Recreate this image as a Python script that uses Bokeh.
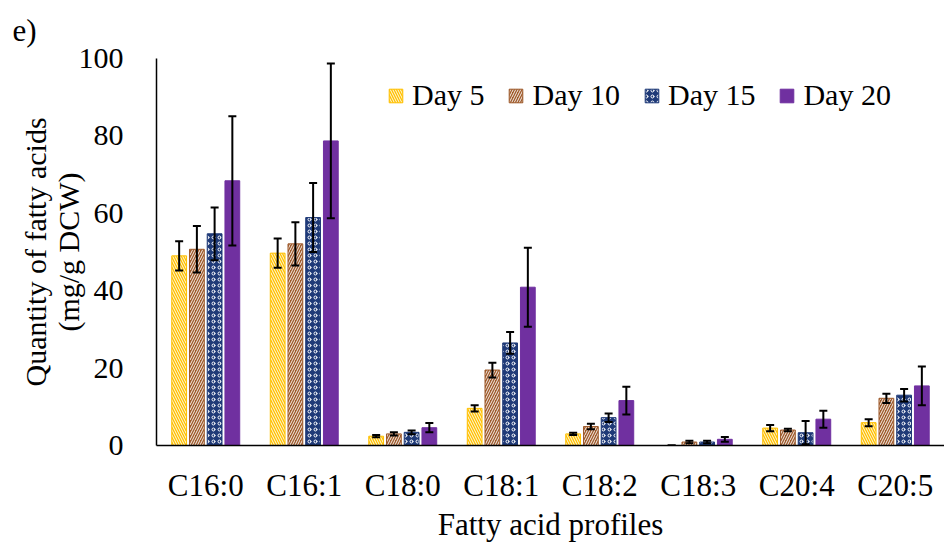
from bokeh.plotting import figure
from bokeh.models import ColumnDataSource, Whisker, TeeHead, Legend, LegendItem, Title, FactorRange, FixedTicker
from bokeh.transform import dodge
from bokeh.embed import file_html
from bokeh.resources import INLINE

categories = ["C16:0", "C16:1", "C18:0", "C18:1", "C18:2", "C18:3", "C20:4", "C20:5"]
series = ["Day 5", "Day 10", "Day 15", "Day 20"]
day5 = [49.0, 49.7, 2.4, 9.6, 3.0, 0.0, 4.5, 5.9]
day10 = [50.7, 52.1, 3.0, 19.5, 4.9, 0.9, 4.0, 12.2]
day15 = [54.7, 58.9, 3.4, 26.5, 7.2, 0.9, 3.3, 13.0]
day20 = [68.4, 78.7, 4.6, 40.9, 11.6, 1.6, 6.8, 15.4]
err5 = [3.8, 3.8, 0.3, 0.8, 0.3, 0.0, 0.8, 0.9]
err10 = [6.0, 5.6, 0.4, 1.9, 0.7, 0.3, 0.3, 1.2]
err15 = [6.8, 8.9, 0.5, 2.8, 1.1, 0.3, 3.0, 1.6]
err20 = [16.7, 20.0, 1.2, 10.2, 3.6, 0.6, 2.2, 5.0]

values = [day5, day10, day15, day20]
errors = [err5, err10, err15, err20]
colors = ["#FFC000", "#9E5A2B", "#1F3A78", "#7030A0"]
hatches = ["\\", "/", "o", " "]
hscale = [5, 5, 6, 5]
hweight = [0.9, 0.9, 1.0, 1.0]
offsets = [-0.27, -0.09, 0.09, 0.27]

FONT = "Liberation Serif"

p = figure(width=944, height=544, x_range=FactorRange(*categories, range_padding=0),
           y_range=(0, 100), output_backend="svg", toolbar_location=None,
           min_border_left=156, min_border_right=0, min_border_top=52, min_border_bottom=97)
p.outline_line_color = None
p.xgrid.visible = False
p.ygrid.visible = False
p.background_fill_color = "white"

items = []
for i, name in enumerate(series):
    src = ColumnDataSource(dict(cat=categories, val=values[i],
                                lo=[v - e for v, e in zip(values[i], errors[i])],
                                hi=[v + e for v, e in zip(values[i], errors[i])]))
    kw = {}
    if hatches[i].strip():
        kw = dict(hatch_pattern=hatches[i], hatch_color="white", hatch_scale=hscale[i], hatch_weight=hweight[i])
    r = p.vbar(x=dodge("cat", offsets[i], range=p.x_range), top="val", width=0.15, source=src,
               fill_color=colors[i], line_color=colors[i], line_width=1, **kw)
    items.append(LegendItem(label=name, renderers=[r]))
    w = Whisker(base=dodge("cat", offsets[i], range=p.x_range), lower="lo", upper="hi", source=src,
                line_color="black", line_width=2, level="annotation",
                upper_head=TeeHead(size=8, line_color="black", line_width=2),
                lower_head=TeeHead(size=8, line_color="black", line_width=2))
    p.add_layout(w)

legend = Legend(items=items, orientation="horizontal", location=(231, 333),
                label_text_font=FONT, label_text_font_size="30px", label_text_color="black",
                glyph_width=17, glyph_height=17, label_standoff=8, spacing=23,
                padding=0, margin=0, border_line_color=None, background_fill_alpha=0)
p.add_layout(legend, "center")

p.yaxis.ticker = FixedTicker(ticks=[0, 20, 40, 60, 80, 100])
p.yaxis.major_tick_line_color = None
p.yaxis.minor_tick_line_color = None
p.yaxis.axis_line_color = "black"
p.yaxis.axis_line_width = 1.5
p.yaxis.major_label_text_font = FONT
p.yaxis.major_label_text_font_size = "30px"
p.yaxis.major_label_text_color = "black"
p.yaxis.major_label_standoff = 27
p.yaxis.axis_label = "Quantity of fatty acids\n(mg/g DCW)"
p.yaxis.axis_label_text_font = FONT
p.yaxis.axis_label_text_font_size = "30px"
p.yaxis.axis_label_text_font_style = "normal"
p.yaxis.axis_label_text_line_height = 1.0
p.yaxis.axis_label_text_color = "black"
p.yaxis.axis_label_standoff = -9

p.xaxis.major_tick_line_color = None
p.xaxis.minor_tick_line_color = None
p.xaxis.axis_line_color = "black"
p.xaxis.axis_line_width = 1.5
p.xaxis.major_label_text_font = FONT
p.xaxis.major_label_text_font_size = "31px"
p.xaxis.major_label_text_color = "black"
p.xaxis.major_label_standoff = 16
p.xaxis.axis_label = "Fatty acid profiles"
p.xaxis.axis_label_text_font = FONT
p.xaxis.axis_label_text_font_size = "31px"
p.xaxis.axis_label_text_font_style = "normal"
p.xaxis.axis_label_text_color = "black"
p.xaxis.axis_label_standoff = 1

tag = Title(text="e)", align="left", offset=-144, text_font=FONT, text_font_size="31px",
            text_font_style="normal", text_color="black", standoff=21)
p.add_layout(tag, "above")

open("out.html", "w").write(file_html(p, INLINE))
